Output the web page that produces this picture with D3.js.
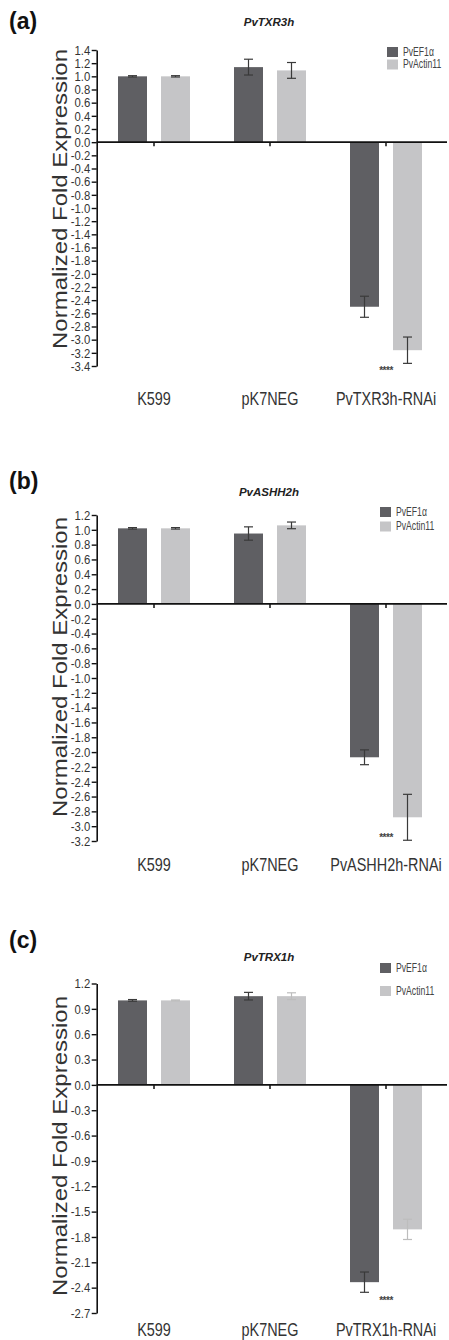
<!DOCTYPE html>
<html>
<head>
<meta charset="utf-8">
<script src="https://cdn.jsdelivr.net/npm/d3@7/dist/d3.min.js"></script>
<style>
  html, body { margin: 0; padding: 0; background: #fff; }
  svg { display: block; font-family: "Liberation Sans", Arial, Helvetica, sans-serif; }
</style>
</head>
<body>
<svg id="chart" width="449" height="1340"></svg>
<script>
// ---------------- DATA ----------------
const seriesNames = ["PvEF1\u03b1", "PvActin11"];

const panelLetters = ["(a)", "(b)", "(c)"];
const geneTitles = ["PvTXR3h", "PvASHH2h", "PvTRX1h"];

const categoriesA = ["K599", "pK7NEG", "PvTXR3h-RNAi"];
const categoriesB = ["K599", "pK7NEG", "PvASHH2h-RNAi"];
const categoriesC = ["K599", "pK7NEG", "PvTRX1h-RNAi"];

const ef1ValuesA = [1.00, 1.14, -2.50];
const ef1ErrorsA = [0.01, 0.12, 0.16];
const actValuesA = [1.00, 1.09, -3.16];
const actErrorsA = [0.01, 0.12, 0.20];

const ef1ValuesB = [1.02, 0.95, -2.07];
const ef1ErrorsB = [0.01, 0.09, 0.10];
const actValuesB = [1.02, 1.06, -2.88];
const actErrorsB = [0.01, 0.045, 0.31];

const ef1ValuesC = [1.00, 1.05, -2.335];
const ef1ErrorsC = [0.01, 0.045, 0.12];
const actValuesC = [1.00, 1.05, -1.71];
const actErrorsC = [0.005, 0.04, 0.12];

const ticksA = [1.4, 1.2, 1.0, 0.8, 0.6, 0.4, 0.2, 0.0, -0.2, -0.4, -0.6, -0.8, -1.0, -1.2, -1.4, -1.6, -1.8, -2.0, -2.2, -2.4, -2.6, -2.8, -3.0, -3.2, -3.4];
const ticksB = [1.2, 1.0, 0.8, 0.6, 0.4, 0.2, 0.0, -0.2, -0.4, -0.6, -0.8, -1.0, -1.2, -1.4, -1.6, -1.8, -2.0, -2.2, -2.4, -2.6, -2.8, -3.0, -3.2];
const ticksC = [1.2, 0.9, 0.6, 0.3, 0.0, -0.3, -0.6, -0.9, -1.2, -1.5, -1.8, -2.1, -2.4, -2.7];

// significance marks: [category, y value of the mark]
const starsA = ["PvTXR3h-RNAi", -3.45];
const starsB = ["PvASHH2h-RNAi", -3.13];
const starsC = ["PvTRX1h-RNAi", -2.53];

const yLabel = "Normalized Fold Expression";

// ---------------- STYLE ----------------
const barColors = ["#5f5f63", "#c5c5c7"];
const errColorsAB = ["#3a3a3a", "#3a3a3a"];
const errColorsC = ["#3a3a3a", "#bdbdbd"];

// ---------------- LAYOUT (pixels) ----------------
const panels = [
  { letter: panelLetters[0], title: geneTitles[0], cats: categoriesA,
    vals: [ef1ValuesA, actValuesA], errs: [ef1ErrorsA, actErrorsA], ticks: ticksA, stars: starsA,
    errColors: errColorsAB,
    yTop: 50, yBot: 366, letterY: 29, titleY: 26, legendX: 387, legendY: 47, legendGap: 12.5,
    catY: 405, yLabelC: 199 },
  { letter: panelLetters[1], title: geneTitles[1], cats: categoriesB,
    vals: [ef1ValuesB, actValuesB], errs: [ef1ErrorsB, actErrorsB], ticks: ticksB, stars: starsB,
    errColors: errColorsAB,
    yTop: 515, yBot: 841, letterY: 489, titleY: 496, legendX: 380, legendY: 507, legendGap: 14.5,
    catY: 871, yLabelC: 667 },
  { letter: panelLetters[2], title: geneTitles[2], cats: categoriesC,
    vals: [ef1ValuesC, actValuesC], errs: [ef1ErrorsC, actErrorsC], ticks: ticksC, stars: starsC,
    errColors: errColorsC,
    yTop: 983.5, yBot: 1313, letterY: 948, titleY: 961, legendX: 380, legendY: 963, legendGap: 23,
    catY: 1336, yLabelC: 1146 }
];

const svg = d3.select("#chart");
const axisX = 96.7;

panels.forEach(p => {
  const g = svg.append("g");
  const y = d3.scaleLinear()
    .domain([d3.min(p.ticks), d3.max(p.ticks)])
    .range([p.yBot, p.yTop]);
  const x = d3.scaleBand().domain(p.cats).range([96, 444]);
  const xs = d3.scaleBand().domain(seriesNames).range([-36, 36]).paddingInner(14 / 43).paddingOuter(0);

  // panel letter
  g.append("text").attr("x", 9).attr("y", p.letterY)
    .attr("font-size", 23).attr("font-weight", "bold").attr("fill", "#111")
    .text(p.letter);

  // title
  g.append("text").attr("x", 269).attr("y", p.titleY)
    .attr("text-anchor", "middle").attr("font-size", 11.5)
    .attr("font-weight", "bold").attr("font-style", "italic").attr("fill", "#222")
    .text(p.title);

  // bars
  const rows = [];
  p.cats.forEach((c, i) => {
    seriesNames.forEach((s, j) => {
      rows.push({ cat: c, s: s, j: j, v: p.vals[j][i], e: p.errs[j][i] });
    });
  });

  g.selectAll("rect.bar").data(rows).enter().append("rect")
    .attr("class", "bar")
    .attr("x", d => x(d.cat) + x.bandwidth() / 2 + xs(d.s))
    .attr("width", xs.bandwidth())
    .attr("y", d => Math.min(y(d.v), y(0)))
    .attr("height", d => Math.abs(y(d.v) - y(0)))
    .attr("fill", d => barColors[d.j]);

  // error bars
  const eg = g.selectAll("g.err").data(rows).enter().append("g")
    .attr("class", "err")
    .attr("stroke", d => p.errColors[d.j])
    .attr("stroke-width", 1.2);
  const cx = d => x(d.cat) + x.bandwidth() / 2 + xs(d.s) + xs.bandwidth() / 2;
  eg.append("line")
    .attr("x1", cx).attr("x2", cx)
    .attr("y1", d => y(d.v + d.e)).attr("y2", d => y(d.v - d.e));
  eg.append("line")
    .attr("x1", d => cx(d) - 4.5).attr("x2", d => cx(d) + 4.5)
    .attr("y1", d => y(d.v + d.e)).attr("y2", d => y(d.v + d.e));
  eg.append("line")
    .attr("x1", d => cx(d) - 4.5).attr("x2", d => cx(d) + 4.5)
    .attr("y1", d => y(d.v - d.e)).attr("y2", d => y(d.v - d.e));

  // y axis
  const ya = g.append("g").attr("transform", `translate(${axisX},0)`)
    .call(d3.axisLeft(y).tickValues(p.ticks).tickSize(5).tickSizeOuter(0)
      .tickFormat(d => (Math.abs(d) < 1e-9 ? 0 : d).toFixed(1)));
  ya.select(".domain").attr("stroke", "#111").attr("stroke-width", 1.6);
  ya.selectAll(".tick line").attr("stroke", "#111").attr("stroke-width", 1.4);
  ya.selectAll(".tick text")
    .attr("font-family", "'Liberation Sans', Arial, sans-serif")
    .attr("font-size", 13.5).attr("fill", "#333")
    .attr("x", -6.5 / 0.84).attr("transform", "scale(0.84,1)");

  // x baseline at zero
  g.append("line").attr("x1", axisX).attr("x2", 447)
    .attr("y1", y(0)).attr("y2", y(0))
    .attr("stroke", "#111").attr("stroke-width", 1.6);
  const xa = g.append("g").attr("transform", `translate(0,${y(0)})`)
    .call(d3.axisBottom(x).tickSize(4).tickFormat(""));
  xa.select(".domain").remove();
  xa.selectAll(".tick line").attr("stroke", "#111").attr("stroke-width", 1.5);

  // category labels
  g.selectAll("text.cat").data(p.cats).enter().append("text")
    .attr("class", "cat")
    .attr("transform", d => `translate(${x(d) + x.bandwidth() / 2},${p.catY}) scale(0.76,1)`)
    .attr("text-anchor", "middle").attr("font-size", 19).attr("fill", "#333")
    .text(d => d);

  // significance stars
  g.append("text")
    .attr("x", x(p.stars[0]) + x.bandwidth() / 2)
    .attr("y", y(p.stars[1]) + 5)
    .attr("text-anchor", "middle").attr("font-size", 10).attr("font-weight", "bold")
    .attr("fill", "#444").attr("letter-spacing", -0.5)
    .text("****");

  // y label
  g.append("text")
    .attr("transform", `translate(67,${p.yLabelC}) rotate(-90)`)
    .attr("text-anchor", "middle").attr("font-size", 20).attr("fill", "#333")
    .attr("textLength", 300).attr("lengthAdjust", "spacingAndGlyphs")
    .text(yLabel);

  // legend
  const lg = g.append("g");
  seriesNames.forEach((s, j) => {
    const ly = p.legendY + j * p.legendGap;
    lg.append("rect").attr("x", p.legendX).attr("y", ly)
      .attr("width", 11).attr("height", 10).attr("fill", barColors[j]);
    lg.append("text")
      .attr("transform", `translate(${p.legendX + 16},${ly + 8.5}) scale(0.72,1)`)
      .attr("font-size", 12).attr("fill", "#444")
      .text(s);
  });
});
</script>
</body>
</html>
